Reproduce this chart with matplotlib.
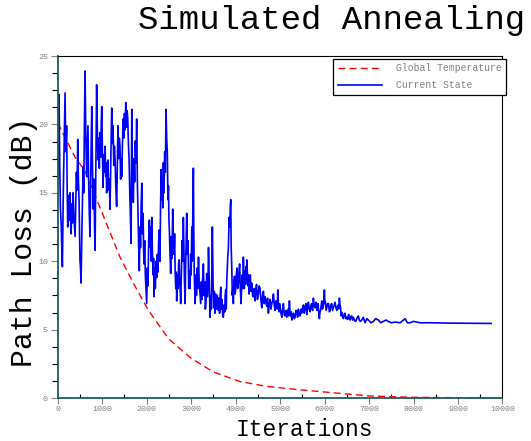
import numpy as np
import matplotlib
matplotlib.use("Agg")
import matplotlib.pyplot as plt
from matplotlib.ticker import MultipleLocator

# werte (iteration, pfadverlust in dB)
# erster teil: starkes rauschen bis ca. 4000
early_iter = [0, 15, 30, 45, 60, 80, 105, 125, 145, 165,
              180, 200, 212, 225, 240, 255, 275, 288, 300, 320,
              335, 345, 360, 375, 390, 405, 420, 435, 450, 465,
              480, 490, 500, 512, 525, 540, 555, 570, 585, 600,
              615, 630, 650, 665, 680, 695, 710, 725, 740, 752,
              765, 780, 800, 815, 828, 840, 855, 865, 875, 890,
              905, 920, 935, 950, 965, 978, 990, 1005, 1020, 1035,
              1050, 1065, 1080, 1090, 1100, 1115, 1130, 1145, 1160, 1175,
              1190, 1200, 1215, 1230, 1245, 1260, 1275, 1290, 1305, 1325,
              1340, 1355, 1370, 1385, 1400, 1415, 1428, 1440, 1455, 1470,
              1485, 1500, 1515, 1530, 1545, 1560, 1575, 1590, 1605, 1620,
              1635, 1650, 1665, 1680, 1700, 1715, 1730, 1745, 1760, 1775,
              1790, 1805, 1820, 1835, 1850, 1862, 1875, 1890, 1905, 1920,
              1930, 1940, 1955, 1970, 1985, 2000, 2015, 2030, 2045, 2060,
              2075, 2090, 2105, 2115, 2130, 2145, 2155, 2165, 2180, 2195,
              2210, 2225, 2240, 2255, 2270, 2285, 2300, 2312, 2325, 2338,
              2350, 2362, 2375, 2390, 2405, 2420, 2435, 2450, 2465, 2478,
              2490, 2500, 2510, 2525, 2540, 2555, 2570, 2585, 2600, 2615,
              2628, 2640, 2655, 2665, 2675, 2690, 2705, 2718, 2730, 2742,
              2755, 2765, 2780, 2795, 2810, 2825, 2838, 2850, 2865, 2875,
              2888, 2900, 2915, 2930, 2945, 2960, 2975, 2990, 3000, 3015,
              3025, 3038, 3050, 3060, 3070, 3080, 3090, 3105, 3120, 3135,
              3150, 3165, 3180, 3195, 3215, 3230, 3245, 3260, 3275, 3290,
              3305, 3320, 3335, 3350, 3365, 3378, 3390, 3410, 3425, 3440,
              3455, 3465, 3477, 3492, 3508, 3520, 3535, 3553, 3570, 3590,
              3612, 3625, 3640, 3655, 3666, 3680, 3695, 3710, 3724, 3740,
              3755, 3765, 3778, 3790, 3800, 3812, 3823, 3838, 3853, 3870,
              3880, 3891, 3900, 3913, 3925, 3937, 3949]
early_val = [16.0, 20.5, 22.2, 17.0, 14.0, 12.5, 9.6, 15.0, 18.5, 22.3,
             18.0, 19.9, 15.5, 12.5, 14.8, 13.0, 15.0, 13.2, 12.0, 14.2,
             12.8, 15.0, 13.5, 12.6, 11.8, 14.0, 16.5, 15.2, 18.9, 16.0,
             14.5, 12.0, 10.1, 9.5, 8.4, 11.5, 14.0, 16.9, 15.0, 20.0,
             23.9, 19.5, 16.2, 18.0, 19.9, 16.0, 13.5, 11.8, 15.5, 18.0,
             21.3, 17.2, 13.8, 16.0, 12.5, 10.8, 16.0, 19.5, 22.9, 19.8,
             17.4, 19.0, 16.8, 19.4, 17.6, 20.0, 21.3, 18.0, 15.4, 17.8,
             16.5, 18.4, 16.2, 17.2, 15.0, 16.8, 17.4, 15.2, 16.0, 13.8,
             16.5, 18.8, 21.2, 18.6, 19.9, 17.0, 18.4, 17.4, 15.5, 14.0,
             17.2, 19.9, 17.5, 19.0, 18.4, 16.0, 17.5, 16.2, 18.5, 20.4,
             19.0, 20.8, 19.6, 21.6, 19.8, 21.0, 20.4, 18.5, 17.4, 15.0,
             13.2, 11.3, 21.1, 17.0, 14.3, 17.5, 15.8, 18.8, 17.2, 20.4,
             16.0, 13.5, 11.0, 9.3, 12.5, 11.0, 14.0, 15.7, 12.0, 13.5,
             11.0, 9.8, 11.5, 9.0, 8.0, 6.9, 9.5, 8.2, 11.5, 13.0,
             11.0, 12.5, 10.0, 13.2, 10.5, 9.0, 10.2, 7.4, 9.5, 8.0,
             10.0, 8.8, 10.5, 9.2, 11.5, 12.3, 10.0, 14.0, 16.7, 14.5,
             15.8, 13.9, 17.2, 15.0, 18.0, 16.5, 21.1, 19.0, 17.9, 14.5,
             15.5, 13.0, 12.3, 10.5, 9.1, 11.8, 10.2, 13.8, 11.5, 10.5,
             12.0, 9.3, 8.0, 9.2, 7.1, 9.0, 8.0, 9.8, 10.1, 8.5,
             7.8, 6.9, 9.0, 11.5, 10.0, 13.2, 10.5, 8.5, 6.9, 9.5,
             11.5, 13.5, 10.5, 11.5, 8.0, 9.3, 8.0, 10.5, 9.0, 12.5,
             10.0, 13.5, 16.8, 12.0, 9.0, 8.0, 6.9, 9.0, 7.5, 9.5,
             8.0, 10.3, 8.5, 7.8, 6.9, 8.5, 7.2, 8.8, 9.8, 7.5,
             8.5, 6.5, 7.1, 9.1, 7.4, 8.2, 11.0, 8.0, 5.9, 7.5,
             6.5, 9.5, 12.5, 8.5, 6.6, 7.8, 6.2, 7.6, 6.5, 7.5,
             6.4, 7.3, 6.2, 7.6, 8.1, 6.5, 7.2, 6.0, 5.9, 6.8,
             6.3, 7.5, 7.9, 6.5, 8.5, 9.5, 10.3, 11.0, 13.2, 12.5,
             14.0, 14.5, 11.0, 9.6, 7.5, 8.0, 6.9]

# zweiter teil: abklingen bis zum ende
late_iter = [3962, 3975, 3990, 4003, 4018, 4030, 4045, 4062, 4075, 4090,
             4105, 4122, 4137, 4150, 4162, 4174, 4185, 4195, 4204, 4212,
             4225, 4235, 4243, 4251, 4262, 4275, 4288, 4302, 4316, 4330,
             4346, 4363, 4380, 4400, 4418, 4437, 4452, 4470, 4490, 4511,
             4530, 4550, 4570, 4588, 4605, 4625, 4642, 4662, 4680, 4700,
             4718, 4736, 4755, 4775, 4795, 4813, 4832, 4850, 4868, 4887,
             4905, 4920, 4935, 4948, 4962, 4975, 4988, 5000, 5020, 5038,
             5055, 5074, 5092, 5110, 5130, 5150, 5165, 5180, 5195, 5209,
             5222, 5235, 5250, 5263, 5282, 5300, 5318, 5337, 5356, 5375,
             5393, 5411, 5430, 5450, 5470, 5488, 5506, 5525, 5543, 5562,
             5580, 5600, 5618, 5636, 5655, 5675, 5693, 5712, 5730, 5748,
             5770, 5790, 5808, 5825, 5840, 5855, 5870, 5883, 5897, 5910,
             5924, 5937, 5950, 5965, 5980, 5996, 6008, 6020, 6035, 6050,
             6070, 6090, 6107, 6124, 6142, 6160, 6180, 6198, 6215, 6235,
             6255, 6275, 6290, 6305, 6320, 6333, 6347, 6360, 6373, 6387,
             6405, 6423, 6440, 6460, 6480, 6500, 6520, 6540, 6557, 6574,
             6592, 6610, 6630, 6648, 6675, 6700, 6730, 6760, 6780, 6800,
             6837, 6870, 6911, 6950, 6985, 7040, 7098, 7150, 7210, 7260,
             7323, 7380, 7435, 7500, 7586, 7700, 7811, 7860, 7923, 8000,
             8148, 8400, 8700, 9745]
late_val = [8.5, 8.9, 7.6, 8.1, 9.0, 9.5, 8.0, 8.4, 9.2, 9.8,
            8.0, 6.9, 8.2, 9.0, 8.0, 10.3, 9.0, 8.0, 9.3, 8.8,
            8.3, 9.6, 8.6, 10.1, 9.2, 8.2, 9.0, 7.6, 8.5, 9.0,
            7.8, 8.4, 7.5, 7.4, 8.0, 7.1, 7.9, 8.3, 7.2, 7.6,
            8.2, 8.0, 7.1, 6.6, 7.4, 7.8, 6.9, 7.4, 7.0, 6.7,
            7.3, 6.2, 6.8, 7.2, 6.5, 6.9, 7.1, 7.6, 6.8, 6.4,
            7.1, 7.0, 6.5, 7.9, 6.8, 6.3, 6.9, 6.6, 6.2, 5.9,
            6.5, 6.9, 6.1, 6.0, 6.4, 5.9, 6.2, 6.5, 6.0, 7.1,
            6.3, 6.0, 6.3, 5.7, 6.0, 6.2, 5.8, 5.9, 6.4, 6.3,
            5.9, 6.5, 6.1, 6.0, 6.5, 6.2, 6.6, 6.8, 6.2, 6.6,
            6.9, 6.1, 6.6, 7.0, 6.5, 6.3, 6.8, 6.9, 6.4, 7.3,
            6.7, 6.6, 7.0, 6.4, 6.6, 6.9, 6.2, 5.8, 6.3, 6.4,
            6.8, 7.1, 6.5, 6.6, 7.0, 7.9, 6.9, 7.0, 6.4, 6.6,
            6.9, 6.9, 6.3, 6.4, 6.8, 6.9, 6.4, 6.6, 6.8, 7.0,
            6.6, 6.4, 6.7, 6.8, 6.5, 7.3, 6.8, 6.6, 6.0, 6.25,
            6.0, 5.8, 6.1, 6.2, 5.8, 5.9, 5.75, 6.1, 5.8, 5.7,
            5.95, 6.0, 5.7, 5.9, 5.65, 5.6, 5.85, 6.0, 5.7, 5.6,
            5.7, 5.9, 5.5, 5.8, 5.7, 5.5, 5.6, 5.8, 5.7, 5.5,
            5.6, 5.7, 5.6, 5.5, 5.55, 5.5, 5.8, 5.5, 5.5, 5.6,
            5.5, 5.5, 5.48, 5.45]

temp_iter = [0, 390, 614, 765, 1065, 1400, 1700, 2040, 2500, 3000, 3500, 4100, 4700,
             5450, 6300, 7000, 8000, 9000, 10000]
temp_val = [20.1, 17.6, 16.6, 15.4, 13.0, 10.3, 8.4, 6.4, 4.3, 2.9, 1.9, 1.2, 0.85,
            0.6, 0.35, 0.15, 0.05, 0.02, 0.0]

state_iter = early_iter + late_iter
state_val = early_val + late_val

mono = "Liberation Mono"
grey = "#808080"
axis_col = "#1d5c5c"

fig = plt.figure(figsize=(5.31, 4.41), dpi=100)
ax = fig.add_axes([0.1087, 0.0975, 0.8376, 0.7755])

ax.plot(temp_iter, temp_val, color="#ff0000", linestyle="--", dashes=(5, 3),
        linewidth=1.0, label="Global Temperature")
ax.plot(state_iter, state_val, color="#0000ff", linewidth=1.2, label="Current State")

ax.set_xlim(0, 10000)
ax.set_ylim(0, 25)
ax.xaxis.set_major_locator(MultipleLocator(1000))
ax.xaxis.set_minor_locator(MultipleLocator(500))
ax.yaxis.set_major_locator(MultipleLocator(5))
ax.yaxis.set_minor_locator(MultipleLocator(1.25))

ax.tick_params(axis="x", which="major", direction="out", length=4, width=0.8,
               colors=grey, labelsize=6, pad=2)
ax.tick_params(axis="x", which="minor", direction="in", length=3, width=0.8, color="k")
ax.tick_params(axis="y", which="major", direction="out", length=5, width=0.8,
               colors=grey, labelsize=6, pad=2)
ax.tick_params(axis="y", which="minor", direction="out", length=4, width=0.8, color="k")
for lab in ax.get_xticklabels() + ax.get_yticklabels():
    lab.set_fontfamily(mono)

ax.spines["left"].set_color(axis_col)
ax.spines["bottom"].set_color(axis_col)
ax.spines["left"].set_linewidth(1.3)
ax.spines["bottom"].set_linewidth(1.3)
ax.spines["top"].set_color("k")
ax.spines["right"].set_color("k")

fig.text(332 / 531, 1 - 20 / 441, "Simulated Annealing", family=mono, fontsize=24.5,
         ha="center", va="center")
fig.text(24 / 531, 1 - 242 / 441, "Path Loss (dB)", family=mono, fontsize=21.5,
         ha="center", va="center", rotation=90)
fig.text(304 / 531, 1 - 430 / 441, "Iterations", family=mono, fontsize=16.5,
         ha="center", va="center")

leg = ax.legend(loc="upper right", bbox_to_anchor=(1.008, 0.992), fancybox=False,
                framealpha=1, edgecolor="k", prop={"family": mono, "size": 7},
                handlelength=4.6, handletextpad=1.4, borderpad=0.45, labelspacing=0.75,
                borderaxespad=0)
leg.get_frame().set_linewidth(0.9)
for t in leg.get_texts():
    t.set_color(grey)

fig.savefig("out.png", dpi=100)
